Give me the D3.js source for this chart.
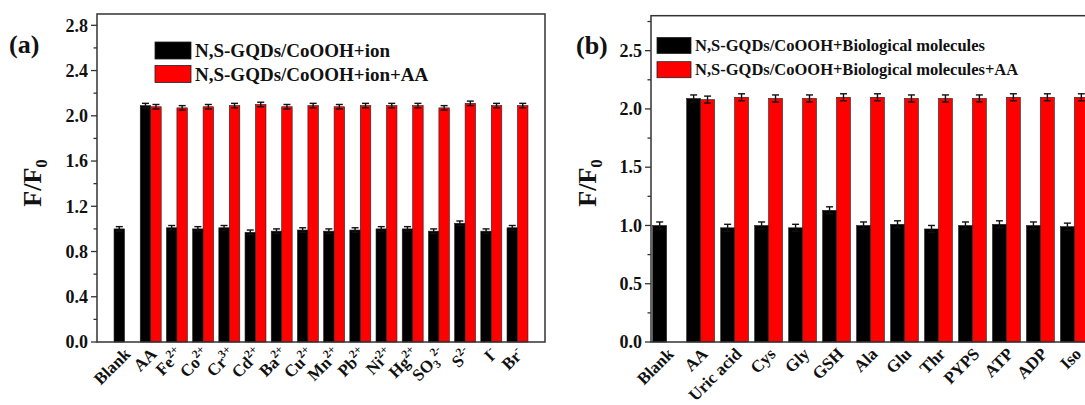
<!DOCTYPE html>
<html><head><meta charset="utf-8">
<script src="https://cdn.jsdelivr.net/npm/d3@7"></script>
<style>
body{margin:0;background:#fff;overflow:hidden}
text{font-family:"Times New Roman","Liberation Serif",serif;font-weight:bold;fill:#111}
</style>
</head><body>
<svg id="c" width="1085" height="405"></svg>
<script>
// ---------- data ----------
const ionCategories = ["Blank","AA","Fe^{2+}","Co^{2+}","Cr^{3+}","Cd^{2+}","Ba^{2+}","Cu^{2+}","Mn^{2+}","Pb^{2+}","Ni^{2+}","Hg^{2+}","SO_{3}^{2-}","S^{2-}","I^{-}","Br^{-}"];
const ionValues    = [1.00,2.09,1.01,1.00,1.01,0.97,0.98,0.99,0.98,0.99,1.00,1.00,0.98,1.05,0.98,1.01];
const ionErrors    = [0.02,0.02,0.02,0.02,0.02,0.02,0.02,0.02,0.02,0.02,0.02,0.02,0.02,0.02,0.02,0.02];
const ionAAValues  = [null,2.08,2.07,2.08,2.09,2.10,2.08,2.09,2.08,2.09,2.09,2.09,2.07,2.11,2.09,2.09];
const ionAAErrors  = [null,0.02,0.02,0.02,0.02,0.02,0.02,0.02,0.02,0.02,0.02,0.02,0.02,0.02,0.02,0.02];
const ionTicks     = [0.0,0.4,0.8,1.2,1.6,2.0,2.4,2.8];
const ionLegend    = ["N,S-GQDs/CoOOH+ion","N,S-GQDs/CoOOH+ion+AA"];

const bioCategories = ["Blank","AA","Uric acid","Cys","Gly","GSH","Ala","Glu","Thr","PYPS","ATP","ADP","Iso"];
const bioValues     = [1.00,2.09,0.98,1.00,0.98,1.13,1.00,1.01,0.97,1.00,1.01,1.00,0.99];
const bioErrors     = [0.03,0.03,0.03,0.03,0.03,0.03,0.03,0.03,0.03,0.03,0.03,0.03,0.03];
const bioAAValues   = [null,2.08,2.10,2.09,2.09,2.10,2.10,2.09,2.09,2.09,2.10,2.10,2.10];
const bioAAErrors   = [null,0.03,0.03,0.03,0.03,0.03,0.03,0.03,0.03,0.03,0.03,0.03,0.03];
const bioTicks      = [0.0,0.5,1.0,1.5,2.0,2.5];
const bioLegend     = ["N,S-GQDs/CoOOH+Biological molecules","N,S-GQDs/CoOOH+Biological molecules+AA"];

const colors = ["#000000","#ff0000"];

const svg = d3.select("#c");

// rotated label built from separate text pieces, each with its own CSS transform
function richLabel(g, str, size, ox, oy){
  const re = /(\^\{[^}]*\}|_\{[^}]*\})/g;
  const parts = str.split(re).filter(s=>s.length).map(p=>{
    if(p.startsWith("^{")) return {t:p.slice(2,-1), dy:-7, fs:size*0.68};
    if(p.startsWith("_{")) return {t:p.slice(2,-1), dy:4, fs:size*0.68};
    return {t:p, dy:0, fs:size};
  });
  const nodes = parts.map(p=>g.append("text").attr("font-size",p.fs).attr("y",p.dy).text(p.t));
  const widths = nodes.map(n=>n.node().getComputedTextLength());
  const total = d3.sum(widths);
  let xx = -total;
  nodes.forEach((n,i)=>{
    n.attr("x",xx)
     .style("transform","translate(" + ox + "px," + oy + "px) rotate(-45deg)")
     .style("transform-origin","0px 0px");
    xx += widths[i];
  });
}

function panel(cfg){
  const g = svg.append("g");
  const y = d3.scaleLinear().domain(cfg.yDomain).range([cfg.bottom, cfg.top]);
  const x = d3.scaleBand().domain(cfg.categories).range([cfg.left, cfg.right])
              .paddingInner(cfg.padIn).paddingOuter(cfg.padOut);
  const bw = x.bandwidth()/2;

  const series = [
    {vals: cfg.values, errs: cfg.errors, off: 0, color: colors[0]},
    {vals: cfg.aaValues, errs: cfg.aaErrors, off: bw, color: colors[1]}
  ];
  series.forEach(s=>{
    const data = cfg.categories.map((c,i)=>({c, v:s.vals[i], e:s.errs[i]})).filter(d=>d.v!=null);
    g.selectAll(null).data(data).enter().append("rect")
      .attr("x", d=>x(d.c)+s.off).attr("width", bw)
      .attr("y", d=>y(d.v)).attr("height", d=>y(0)-y(d.v))
      .attr("fill", s.color).attr("stroke","#222").attr("stroke-width",0.6);
    const eb = g.selectAll(null).data(data).enter().append("g")
      .attr("stroke","#111").attr("stroke-width",1.4);
    const cx = d=>x(d.c)+s.off+bw/2;
    eb.append("line").attr("x1",cx).attr("x2",cx).attr("y1",d=>y(d.v-d.e)).attr("y2",d=>y(d.v+d.e));
    eb.append("line").attr("x1",d=>cx(d)-3.5).attr("x2",d=>cx(d)+3.5).attr("y1",d=>y(d.v+d.e)).attr("y2",d=>y(d.v+d.e));
    eb.append("line").attr("x1",d=>cx(d)-3.5).attr("x2",d=>cx(d)+3.5).attr("y1",d=>y(d.v-d.e)).attr("y2",d=>y(d.v-d.e));
  });

  g.append("rect").attr("x",cfg.left).attr("y",cfg.top).attr("width",cfg.frameRight-cfg.left)
    .attr("height",cfg.bottom-cfg.top).attr("fill","none").attr("stroke","#333").attr("stroke-width",1.5);

  const step = cfg.ticks[1]-cfg.ticks[0];
  const minor = d3.range(0, cfg.yDomain[1]+1e-9, step/2);
  const ya = g.append("g").attr("stroke","#333").attr("stroke-width",1.3);
  ya.selectAll(null).data(minor).enter().append("line")
    .attr("x1", d=>cfg.left - (Math.abs(Math.round(d/step)*step-d)<1e-6 ? 6 : 3.5)).attr("x2",cfg.left)
    .attr("y1", d=>y(d)).attr("y2", d=>y(d));
  g.selectAll(null).data(cfg.ticks).enter().append("text")
    .attr("x", cfg.left-9).attr("y", d=>y(d)).attr("dy","0.35em")
    .attr("text-anchor","end").attr("font-size",cfg.tickSize).text(d=>d.toFixed(1));

  // x labels (rotated -45)
  const lg = g.append("g");
  cfg.categories.forEach(c=>{
    richLabel(lg, c, cfg.xSize, x(c)+x.bandwidth()/2 + cfg.xOff, cfg.bottom+13);
  });

  const yt = g.append("text").attr("font-size",26).attr("text-anchor","middle")
    .attr("transform",`translate(${cfg.titleX},${cfg.titleY}) rotate(-90)`);
  yt.append("tspan").text("F/F");
  yt.append("tspan").attr("font-size","0.65em").attr("dy",6).text("0");

  g.append("text").attr("x",cfg.labelX).attr("y",cfg.labelY).attr("font-size",26).text(cfg.label);

  cfg.legend.forEach((L,i)=>{
    const ly = cfg.legY + i*cfg.legGap;
    g.append("rect").attr("x",cfg.legX).attr("y",ly).attr("width",cfg.legW).attr("height",cfg.legH)
      .attr("fill",colors[i]).attr("stroke","#222").attr("stroke-width",0.8);
    g.append("text").attr("x",cfg.legX+cfg.legW+4).attr("y",ly+cfg.legH/2).attr("dy","0.35em")
      .attr("font-size",cfg.legSize).text(L);
  });
}

panel({
  categories: ionCategories, values: ionValues, errors: ionErrors,
  aaValues: ionAAValues, aaErrors: ionAAErrors, ticks: ionTicks, legend: ionLegend,
  yDomain:[0,2.9], top:14, bottom:342, left:97, right:545, frameRight:545,
  padIn:0.2, padOut:0.65, tickSize:18, xSize:17, xOff:7,
  titleX:41, titleY:183, label:"(a)", labelX:9, labelY:53,
  legX:155, legY:42, legW:36, legH:17, legGap:23.5, legSize:19
});

panel({
  categories: bioCategories, values: bioValues, errors: bioErrors,
  aaValues: bioAAValues, aaErrors: bioAAErrors, ticks: bioTicks, legend: bioLegend,
  yDomain:[0,2.8], top:15.7, bottom:342, left:651, right:1090, frameRight:1100,
  padIn:0.18, padOut:0.05, tickSize:18, xSize:17, xOff:8,
  titleX:596, titleY:183, label:"(b)", labelX:576, labelY:54,
  legX:657, legY:37.5, legW:34, legH:16, legGap:24.2, legSize:16.5
});
</script>
</body></html>
